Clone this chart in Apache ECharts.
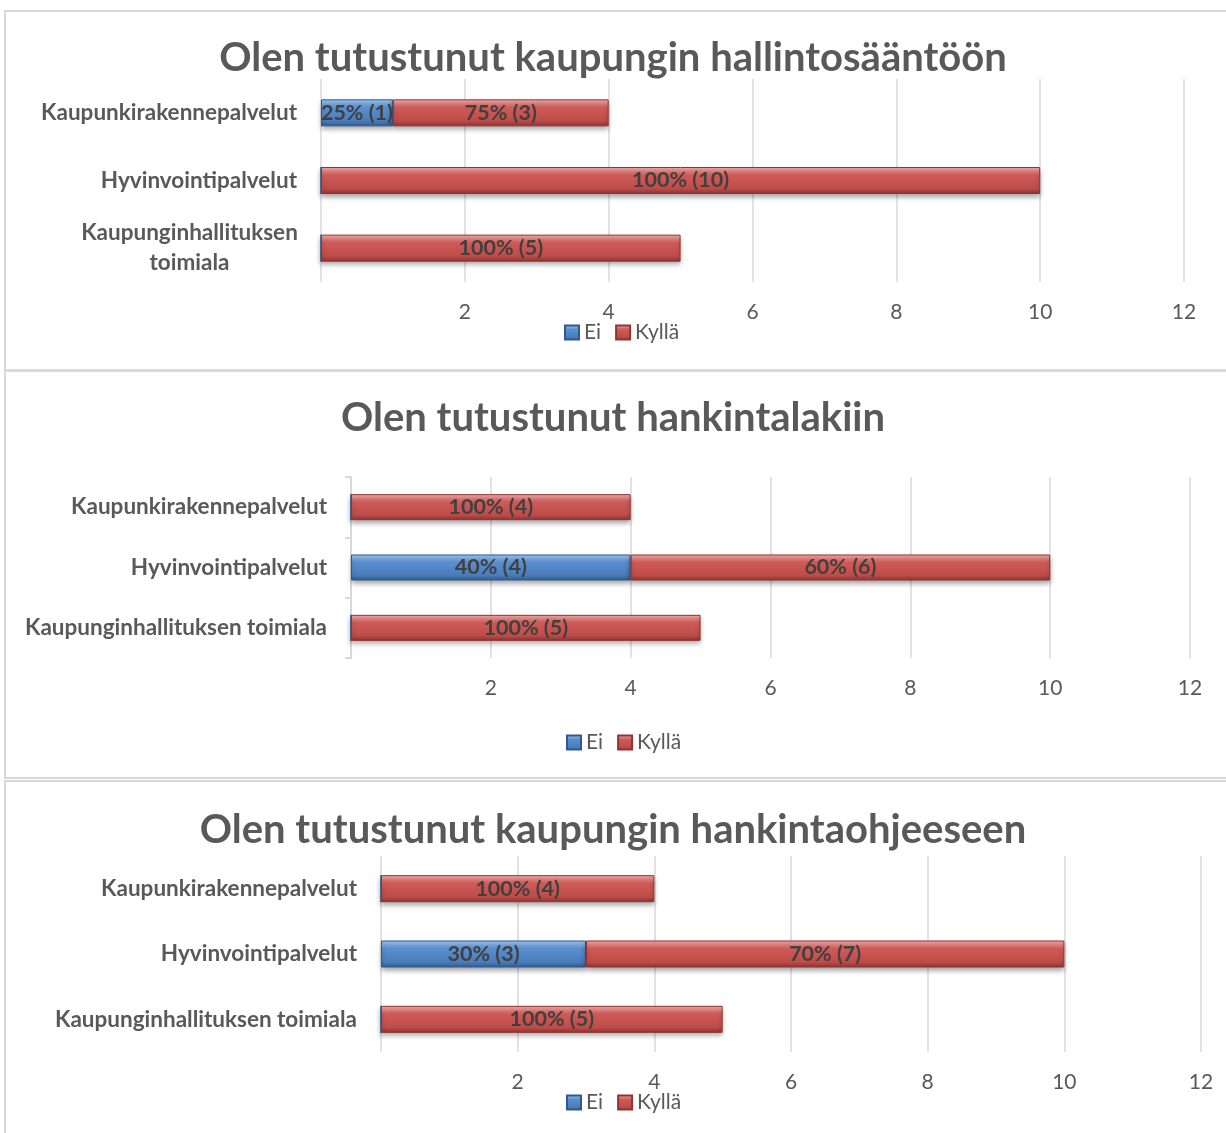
<!DOCTYPE html>
<html>
<head>
<meta charset="utf-8">
<title>Olen tutustunut</title>
<script src="https://cdn.jsdelivr.net/npm/echarts@6/dist/echarts.min.js"></script>
<style>
  html, body { margin: 0; padding: 0; background: #fff; overflow: hidden; }
  #main { width: 1226px; height: 1133px; }
</style>
</head>
<body>
<div id="main"></div>
<script>
// categories, bottom row first (ECharts draws category 0 at the bottom)
var categories = ['Kaupunginhallituksen toimiala', 'Hyvinvointipalvelut', 'Kaupunkirakennepalvelut'];
var seriesNames = ['Ei', 'Kyllä'];

var titles = [
    'Olen tutustunut kaupungin hallintosääntöön',
    'Olen tutustunut hankintalakiin',
    'Olen tutustunut kaupungin hankintaohjeeseen'
];

// answers per chart
var eiHallinto = [0, 0, 1];
var kyllaHallinto = [5, 10, 3];
var eiLaki = [0, 4, 0];
var kyllaLaki = [5, 6, 4];
var eiOhje = [0, 3, 0];
var kyllaOhje = [5, 7, 4];

var values = [
    [eiHallinto, kyllaHallinto],
    [eiLaki, kyllaLaki],
    [eiOhje, kyllaOhje]
];

// layout of the three panels (page pixels)
var panels = [
    { box: [5, 11, 1240, 359], titleTop: 38, grid: { left: 321, right: 42, top: 79, height: 203 }, bar: 27, legendTop: 322, legendLeft: 564, wrap: true, yLine: false },
    { box: [5, 371, 1240, 407], titleTop: 398, grid: { left: 351, right: 36, top: 477, height: 181 }, bar: 26, legendTop: 732, legendLeft: 566, wrap: false, yLine: true },
    { box: [5, 781, 1240, 400], titleTop: 810, grid: { left: 381, right: 25, top: 856, height: 196 }, bar: 27, legendTop: 1092, legendLeft: 566, wrap: false, yLine: false }
];

var blue = new echarts.graphic.LinearGradient(0, 0, 0, 1, [
    { offset: 0, color: '#a4ccf7' },
    { offset: 0.3, color: '#5b8fd0' },
    { offset: 0.8, color: '#4a7cba' },
    { offset: 1, color: '#2f5a8f' }
]);
var red = new echarts.graphic.LinearGradient(0, 0, 0, 1, [
    { offset: 0, color: '#f8b2b0' },
    { offset: 0.3, color: '#d05b58' },
    { offset: 0.8, color: '#bd4c49' },
    { offset: 1, color: '#8e3432' }
]);
var colors = [blue, red];
var borders = ['#2f5a8f', '#8e3432'];

var txt = '#595959';
var fam = 'Lato, "Open Sans", sans-serif';

var option = {
    animation: false,
    textStyle: { fontFamily: fam },
    title: [],
    legend: [],
    grid: [],
    xAxis: [],
    yAxis: [],
    series: [],
    graphic: []
};

panels.forEach(function (p, i) {
    var ei = values[i][0];
    var kylla = values[i][1];
    var totals = ei.map(function (v, k) { return v + kylla[k]; });

    option.graphic.push({
        type: 'rect',
        shape: { x: p.box[0], y: p.box[1], width: p.box[2], height: p.box[3] },
        style: { fill: 'none', stroke: '#d9d9d9', lineWidth: 2 },
        silent: true,
        z: -1
    });

    option.title.push({
        text: titles[i],
        left: 'center',
        top: p.titleTop,
        padding: 0,
        textStyle: { fontSize: 40, fontWeight: 'bold', color: txt, fontFamily: fam }
    });

    option.legend.push({
        data: seriesNames,
        left: p.legendLeft,
        top: p.legendTop,
        padding: 0,
        itemWidth: 14,
        itemHeight: 14,
        itemGap: 14,
        icon: 'rect',
        textStyle: { fontSize: 21, color: txt }
    });

    option.grid.push(p.grid);

    option.xAxis.push({
        type: 'value',
        gridIndex: i,
        min: 0,
        max: 12,
        interval: 2,
        axisLine: { show: false },
        axisTick: { show: false },
        splitLine: { show: true, lineStyle: { color: '#d9d9d9', width: 1.5 } },
        axisLabel: {
            fontSize: 21,
            color: txt,
            margin: 20,
            formatter: function (v) { return v === 0 ? '' : String(v); }
        }
    });

    var yLabel = {
        fontSize: 22.5,
        fontWeight: 'bold',
        color: txt,
        margin: 24
    };
    if (p.wrap) {
        yLabel.formatter = function (v) {
            if (v.length < 24) return v;
            return v.split(' ').map(function (s) { return '{c|' + s + '}'; }).join('\n');
        };
        yLabel.rich = {
            c: { fontSize: 22.5, fontWeight: 'bold', color: txt, width: 215, align: 'center', lineHeight: 30, fontFamily: fam }
        };
    }

    option.yAxis.push({
        type: 'category',
        gridIndex: i,
        data: categories,
        axisLine: { show: p.yLine, lineStyle: { color: '#d9d9d9', width: 2 } },
        axisTick: { show: p.yLine, length: 6, lineStyle: { color: '#d9d9d9', width: 2 } },
        axisLabel: yLabel
    });

    seriesNames.forEach(function (name, s) {
        option.series.push({
            name: name,
            type: 'bar',
            stack: 'p' + i,
            xAxisIndex: i,
            yAxisIndex: i,
            barWidth: p.bar,
            data: values[i][s],
            itemStyle: {
                color: colors[s],
                borderColor: borders[s],
                borderWidth: 1,
                shadowBlur: 5,
                shadowColor: 'rgba(0,0,0,0.35)',
                shadowOffsetY: 3
            },
            label: {
                show: true,
                position: 'inside',
                fontSize: 21.5,
                fontWeight: 'bold',
                color: '#404040',
                formatter: function (d) {
                    if (!d.value) return '';
                    var pct = Math.round(d.value / totals[d.dataIndex] * 100);
                    return pct + '% (' + d.value + ')';
                }
            }
        });
    });
});

var chart = echarts.init(document.getElementById('main'));
chart.setOption(option);
</script>
</body>
</html>
